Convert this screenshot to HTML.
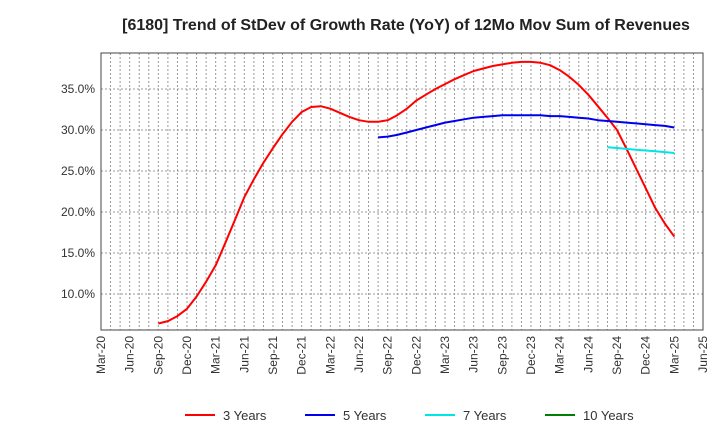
<!DOCTYPE html>
<html><head><meta charset="utf-8"><style>
body{margin:0;background:#fff;font-family:"Liberation Sans",Arial,sans-serif}
svg text{font-family:"Liberation Sans",Arial,sans-serif}
</style></head><body>
<svg id="c" width="720" height="440">
<text x="406" y="30" text-anchor="middle" font-size="16" font-weight="bold" fill="#222">[6180]  Trend of StDev of Growth Rate (YoY) of 12Mo Mov Sum of Revenues</text>
<g id="grid"></g><g id="axes"></g><g id="series"></g>
<g id="legend"></g>
</svg>
<script>
const xTickLabels=["Mar-20","Jun-20","Sep-20","Dec-20","Mar-21","Jun-21","Sep-21","Dec-21","Mar-22","Jun-22","Sep-22","Dec-22","Mar-23","Jun-23","Sep-23","Dec-23","Mar-24","Jun-24","Sep-24","Dec-24","Mar-25","Jun-25"];
const yTicks=[10,15,20,25,30,35];
// month index from Mar-20 = 0
const y3Start=6;
const y3=[6.4,6.7,7.3,8.2,9.7,11.5,13.5,16.2,19.0,21.8,24.0,26.0,27.8,29.5,31.0,32.2,32.8,32.9,32.6,32.1,31.6,31.2,31.0,31.0,31.2,31.8,32.6,33.6,34.3,35.0,35.6,36.2,36.7,37.2,37.5,37.8,38.0,38.2,38.3,38.3,38.2,37.9,37.3,36.5,35.5,34.3,32.9,31.5,30.0,27.7,25.3,22.9,20.5,18.6,17.0];
const y5Start=29;
const y5=[29.1,29.2,29.4,29.7,30.0,30.3,30.6,30.9,31.1,31.3,31.5,31.6,31.7,31.8,31.8,31.8,31.8,31.8,31.7,31.7,31.6,31.5,31.4,31.2,31.1,31.0,30.9,30.8,30.7,30.6,30.5,30.3];
const y7Start=53;
const y7=[27.9,27.8,27.7,27.6,27.5,27.4,27.3,27.2];
const L=101,R=703,T=53,B=330;
const X=m=>L+m*(R-L)/63;
const Y=v=>294-(v-10)*8.2;
const ns="http://www.w3.org/2000/svg";
function mk(tag,attrs,parent,text){const e=document.createElementNS(ns,tag);for(const k in attrs)e.setAttribute(k,attrs[k]);if(text!==undefined)e.textContent=text;parent.appendChild(e);return e;}
const grid=document.getElementById('grid'),axes=document.getElementById('axes'),series=document.getElementById('series'),legend=document.getElementById('legend');
for(let m=1;m<63;m++){const g=mk('line',{x1:X(m),x2:X(m),y1:T,y2:B,stroke:'#999','stroke-dasharray':'2,2','stroke-width':1},grid);

}
yTicks.forEach(v=>{const g=mk('line',{x1:L,x2:R,y1:Y(v),y2:Y(v),stroke:'#999','stroke-dasharray':'2,2','stroke-width':1},grid);


const t=mk('text',{x:L-6,y:Y(v)+4,'text-anchor':'end','font-size':12,fill:'#333'},axes,v.toFixed(1)+'%');

});
const fr=mk('rect',{x:L,y:T,width:R-L,height:B-T,fill:'none',stroke:'#444','stroke-width':1},axes);


xTickLabels.forEach((s,i)=>{const x=X(i*3);const t=mk('text',{transform:`translate(${x+4},${B+6}) rotate(-90)`,'text-anchor':'end','font-size':12,fill:'#333'},axes,s);

});
function line(arr,start,color,name){const pts=arr.map((v,i)=>X(start+i).toFixed(1)+','+Y(v).toFixed(1)).join(' ');
const p=mk('polyline',{points:pts,fill:'none',stroke:color,'stroke-width':2,'stroke-linejoin':'round'},series);

}
line(y3,y3Start,'#ff0000','line-3-years');
line(y5,y5Start,'#0000ee','line-5-years');
line(y7,y7Start,'#00e5e5','line-7-years');
const leg=[['3 Years','#ff0000',185],['5 Years','#0000ee',305],['7 Years','#00e5e5',425],['10 Years','#008000',545]];
leg.forEach(([n,c,x])=>{const g=mk('g',{},legend);


mk('line',{x1:x,x2:x+30,y1:415,y2:415,stroke:c,'stroke-width':2},g);
mk('text',{x:x+38,y:420,'font-size':13,fill:'#333'},g,n);});
</script>
</body></html>
